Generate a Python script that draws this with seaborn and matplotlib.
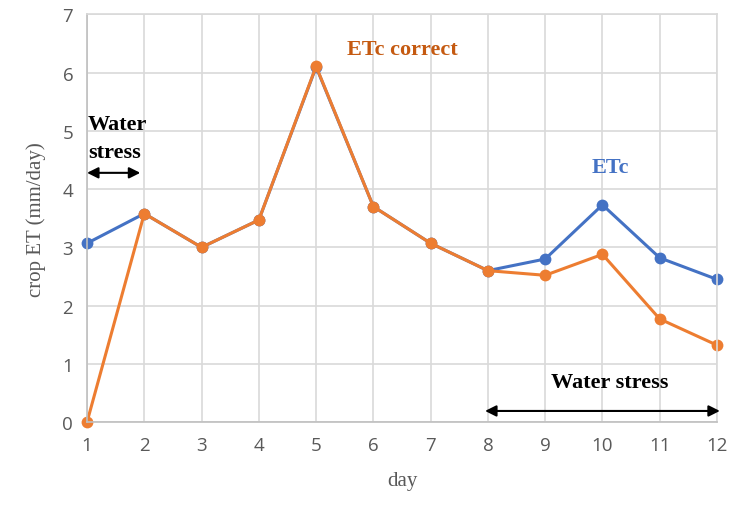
import matplotlib.pyplot as plt
import seaborn as sns
import pandas as pd

# crop evapotranspiration per day
days = [1, 2, 3, 4, 5, 6, 7, 8, 9, 10, 11, 12]
etc = [3.07, 3.58, 3.0, 3.47, 6.1, 3.7, 3.07, 2.6, 2.8, 3.73, 2.82, 2.45]
etc_correct = [0.0, 3.58, 3.0, 3.47, 6.11, 3.7, 3.07, 2.6, 2.52, 2.88, 1.77, 1.32]

blue = "#4472C4"
orange = "#ED7D31"

df = pd.DataFrame({"day": days * 2,
                   "value": etc + etc_correct,
                   "series": ["ETc"] * len(days) + ["ETc correct"] * len(days)})

sns.set_style("whitegrid", {"grid.color": "#D9D9D9", "axes.edgecolor": "#D9D9D9"})

fig = plt.figure(figsize=(7.32, 5.06), dpi=100)
ax = fig.add_axes([0.1189, 0.164, 0.8606, 0.8054])

sns.lineplot(data=df, x="day", y="value", hue="series",
             palette={"ETc": blue, "ETc correct": orange},
             marker="o", markersize=8.5, markeredgewidth=0, linewidth=2.2,
             legend=False, ax=ax)

ax.set_xlim(1, 12)
ax.set_ylim(0, 7)
ax.set_xticks(days)
ax.set_yticks(range(0, 8))
ax.tick_params(axis="both", colors="#595959", labelsize=13.5, length=0, pad=10)
for lab in ax.get_xticklabels() + ax.get_yticklabels():
    lab.set_family("Open Sans")
ax.spines["left"].set_color("#BFBFBF")
ax.spines["bottom"].set_color("#BFBFBF")
for s in ax.spines.values():
    s.set_linewidth(1.2)
ax.grid(linewidth=1.2)
for line in ax.lines:
    line.set_clip_on(False)

ax.set_xlabel("day", family="Liberation Serif", fontsize=15, color="#595959", labelpad=12)
ax.set_ylabel("crop ET (mm/day)", family="Liberation Serif", fontsize=15, color="#595959", labelpad=12)

# annotations
serif_bold = dict(family="Liberation Serif", fontweight="bold", fontsize=16)
ax.text(6.5, 6.41, "ETc correct", color="#C55A11", ha="center", va="center", **serif_bold)
ax.text(10.13, 4.38, "ETc", color=blue, ha="center", va="center", **serif_bold)
ax.text(1.02, 4.88, "Water\nstress", color="black", ha="left", va="center",
        linespacing=1.5, **serif_bold)
ax.text(10.13, 0.69, "Water stress", color="black", ha="center", va="center", **serif_bold)

arrow = dict(arrowstyle="<|-|>,head_length=0.6,head_width=0.3", color="black", lw=1.5,
             mutation_scale=11, shrinkA=0, shrinkB=0)
ax.annotate("", xy=(1.93, 4.28), xytext=(1.0, 4.28), arrowprops=arrow, annotation_clip=False)
ax.annotate("", xy=(12.05, 0.19), xytext=(7.95, 0.19), arrowprops=arrow, annotation_clip=False)

fig.savefig("out.png", dpi=100)
